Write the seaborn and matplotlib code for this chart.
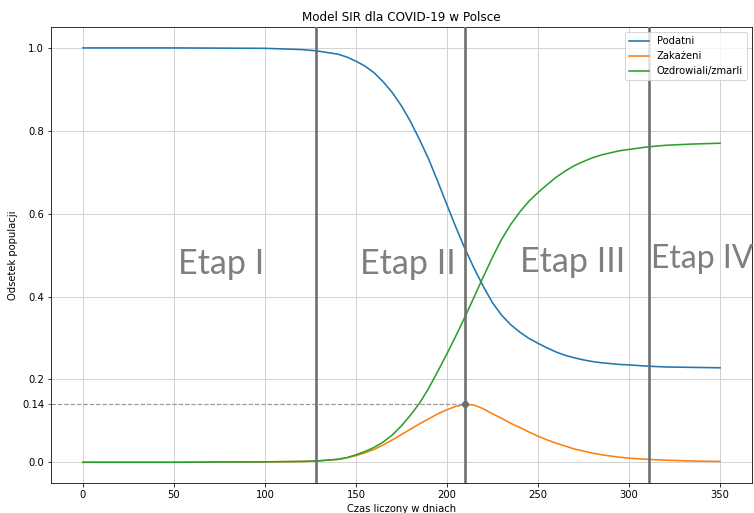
import numpy as np
import pandas as pd
import seaborn as sns
import matplotlib.pyplot as plt

# dane (dni, odsetek populacji)
dni = [0, 50, 100, 120, 128, 140, 145, 150, 155, 160, 165, 170, 175, 180, 185,
       190, 195, 200, 205, 210, 215, 220, 225, 230, 235, 240, 245, 250, 255,
       260, 265, 270, 275, 280, 285, 290, 295, 300, 310, 320, 335, 350]
podatni = [1.000, 1.000, 0.999, 0.996, 0.993, 0.985, 0.978, 0.968, 0.956, 0.940,
           0.918, 0.892, 0.860, 0.822, 0.778, 0.731, 0.677, 0.621, 0.566, 0.514,
           0.467, 0.424, 0.385, 0.355, 0.332, 0.314, 0.299, 0.287, 0.276, 0.266,
           0.258, 0.252, 0.247, 0.243, 0.240, 0.238, 0.236, 0.235, 0.232, 0.230,
           0.229, 0.228]
zakazeni = [0.000, 0.000, 0.001, 0.002, 0.003, 0.007, 0.011, 0.016, 0.023, 0.031,
            0.042, 0.054, 0.067, 0.080, 0.093, 0.105, 0.117, 0.127, 0.135, 0.140,
            0.138, 0.129, 0.117, 0.106, 0.094, 0.084, 0.073, 0.063, 0.054, 0.046,
            0.039, 0.032, 0.027, 0.022, 0.018, 0.015, 0.012, 0.010, 0.007, 0.005,
            0.003, 0.002]
ozdrowiali = [0.000, 0.000, 0.001, 0.002, 0.003, 0.007, 0.011, 0.018, 0.026, 0.036,
              0.049, 0.066, 0.088, 0.114, 0.143, 0.179, 0.220, 0.262, 0.306, 0.352,
              0.400, 0.448, 0.495, 0.538, 0.574, 0.604, 0.630, 0.651, 0.670, 0.688,
              0.703, 0.716, 0.726, 0.735, 0.742, 0.747, 0.752, 0.755, 0.761, 0.765,
              0.768, 0.770]

granice_etapow = [128, 210, 311]
etapy = ['Etap I', 'Etap II', 'Etap III', 'Etap IV']
etapy_x = [52, 152, 240, 312]
etapy_y = [0.455, 0.455, 0.46, 0.468]
etapy_rozmiar = [34, 34, 34, 32]

df = pd.DataFrame({'dzien': dni, 'Podatni': podatni,
                   'Zakażeni': zakazeni, 'Ozdrowiali/zmarli': ozdrowiali})

fig = plt.figure(figsize=(754 / 72, 513 / 72), dpi=72)
ax = fig.add_axes([0.0676, 0.0585, 0.9297, 0.8885])

kolory = {'Podatni': 'tab:blue', 'Zakażeni': 'tab:orange', 'Ozdrowiali/zmarli': 'tab:green'}
for kol, c in kolory.items():
    sns.lineplot(data=df, x='dzien', y=kol, ax=ax, color=c, label=kol, linewidth=1.6)

ax.grid(True, which='major', color='#d3d3d3', linewidth=1)
ax.set_axisbelow(True)

for g in granice_etapow:
    ax.axvline(g, color='#6e6e6e', linewidth=2.6, zorder=3)

# szczyt zakażeń
i_max = int(np.argmax(zakazeni))
ax.set_xlim(-17.5, 367.5)
ax.set_ylim(-0.05, 1.05)
ax.hlines(zakazeni[i_max], -17.5, dni[i_max], colors='#9a9a9a', linestyles='--', linewidth=1.2)
ax.plot(dni[i_max], zakazeni[i_max], 'o', color='#6e6e6e', markersize=6, zorder=4)

ax.set_xticks([0, 50, 100, 150, 200, 250, 300, 350])
ax.set_yticks([0.0, 0.2, 0.4, 0.6, 0.8, 1.0])
ax.set_yticks([zakazeni[i_max]], minor=True)
ax.set_yticklabels(['0.14'], minor=True)
ax.tick_params(axis='y', which='minor', length=3.5)

for t, x, y, r in zip(etapy, etapy_x, etapy_y, etapy_rozmiar):
    ax.text(x, y, t, fontsize=r, color='#7f7f7f', family='Lato', clip_on=False)

ax.set_title('Model SIR dla COVID-19 w Polsce')
ax.set_xlabel('Czas liczony w dniach')
ax.set_ylabel('Odsetek populacji')
ax.legend(loc='upper right')

fig.savefig('out.png', dpi=72)
